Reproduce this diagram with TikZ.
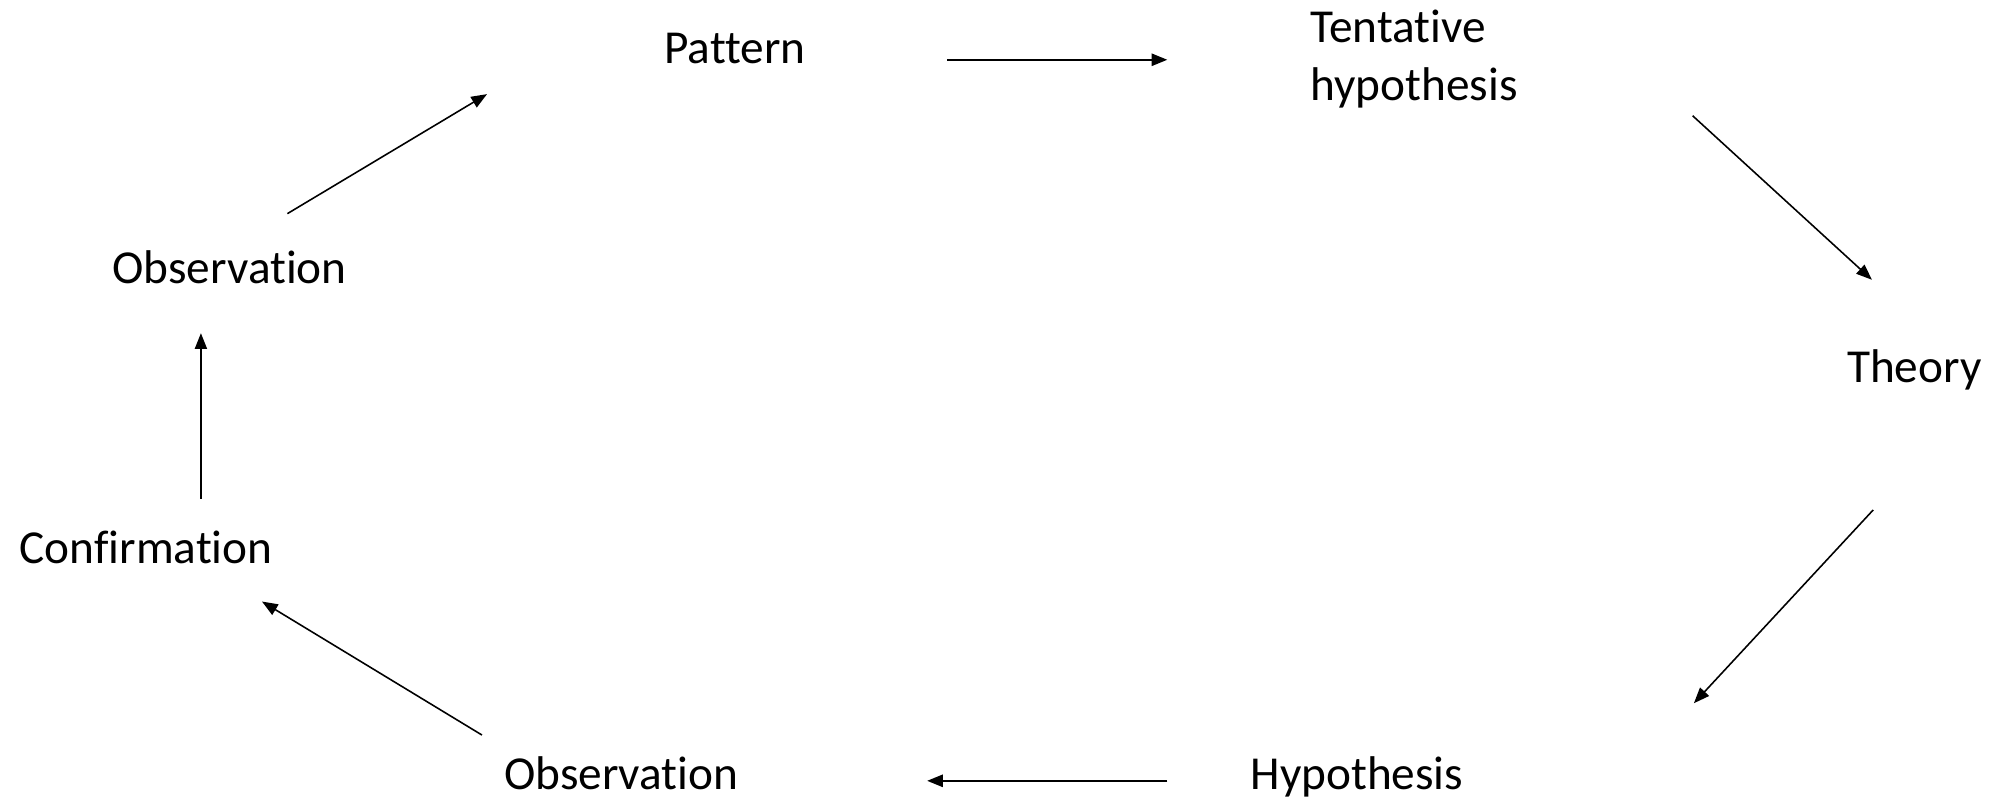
\documentclass[tikz,border=0pt]{standalone}
\usepackage{fontspec}
\setmainfont{Carlito}[Ligatures=NoCommon]
\usetikzlibrary{arrows.meta}
\begin{document}
\begin{tikzpicture}[x=0.484pt,y=-0.484pt,
  lbl/.style={anchor=base west,inner sep=0pt,font=\fontsize{18pt}{22pt}\selectfont},
  arr/.style={-{Triangle[length=6pt,width=4.6pt]},line width=0.6pt},
  harr/.style={arr,line width=0.9pt}]
\useasboundingbox[fill=white] (0,0) rectangle (1568,631);
% labels
\node[lbl] (pattern) at (522,50) {Pattern};
\node[lbl,align=left] (tent) at (1030,79) {Tentative\\hypothesis};
\node[lbl] (theory) at (1452,301) {Theory};
\node[lbl] (hyp) at (983,621) {Hypothesis};
\node[lbl] (obsb) at (396,621) {Observation};
\node[lbl] (conf) at (15,443) {Confirmation};
\node[lbl] (obst) at (88,223) {Observation};
% arrow endpoints
\coordinate (a1s) at (745,47);  \coordinate (a1e) at (918,47);
\coordinate (a2s) at (1331,91); \coordinate (a2e) at (1472,220);
\coordinate (a3s) at (1473,401);\coordinate (a3e) at (1332,553);
\coordinate (a4s) at (918,614); \coordinate (a4e) at (729,614);
\coordinate (a5s) at (379,578); \coordinate (a5e) at (206,473);
\coordinate (a6s) at (158,392); \coordinate (a6e) at (158,262);
\coordinate (a7s) at (226,168); \coordinate (a7e) at (383,74);
\draw[harr] (a1s) -- (a1e);
\draw[arr] (a2s) -- (a2e);
\draw[arr] (a3s) -- (a3e);
\draw[harr] (a4s) -- (a4e);
\draw[arr] (a5s) -- (a5e);
\draw[arr] (a6s) -- (a6e);
\draw[arr] (a7s) -- (a7e);
\end{tikzpicture}
\end{document}
